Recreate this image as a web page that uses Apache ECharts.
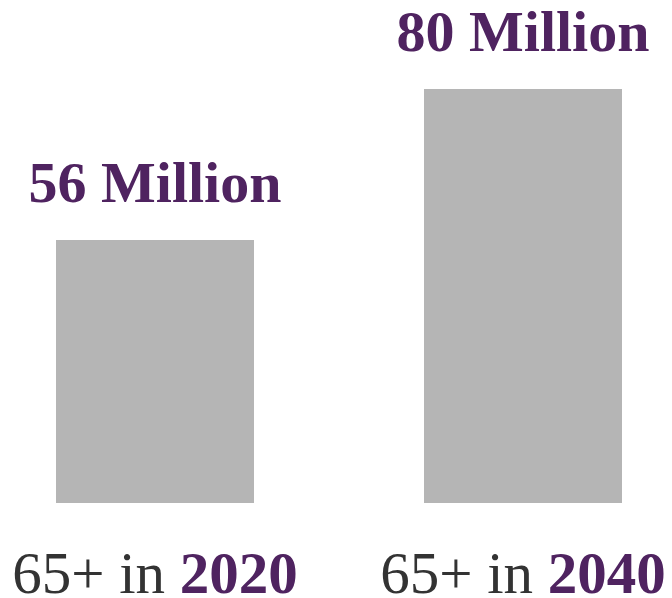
<!DOCTYPE html>
<html><head><meta charset="utf-8">
<script src="https://cdn.jsdelivr.net/npm/echarts@6/dist/echarts.min.js"></script>
<style>html,body{margin:0;padding:0;background:#fff}#c{width:672px;height:598px}</style>
</head><body><div id="c"></div>
<script>
const years = ['2020', '2040'];
const values = [56, 80];
const valueLabels = ['56 Million', '80 Million'];

const chart = echarts.init(document.getElementById('c'));
chart.setOption({
  animation: false,
  grid: { left: -29, width: 736, top: 89, bottom: 95, outerBoundsMode: 'none', containLabel: false },
  xAxis: {
    type: 'category',
    data: years,
    axisLine: { show: false }, axisTick: { show: false },
    axisLabel: {
      margin: 45,
      formatter: v => '{a|65+ in }{b|' + v + '}',
      rich: {
        a: { fontFamily: 'Liberation Serif', fontSize: 59, color: '#333333' },
        b: { fontFamily: 'Liberation Serif', fontSize: 59, color: '#4f2360', fontWeight: 'bold' }
      }
    }
  },
  yAxis: { type: 'value', min: 14.2, max: 80, show: false, splitLine: { show: false } },
  series: [{
    type: 'bar',
    data: values,
    barWidth: 198,
    itemStyle: { color: '#b5b5b5' },
    label: {
      show: true, position: 'top', distance: 24,
      formatter: p => valueLabels[p.dataIndex],
      fontFamily: 'Liberation Serif', fontSize: 58, fontWeight: 'bold', color: '#4f2360'
    }
  }]
});
</script></body></html>
